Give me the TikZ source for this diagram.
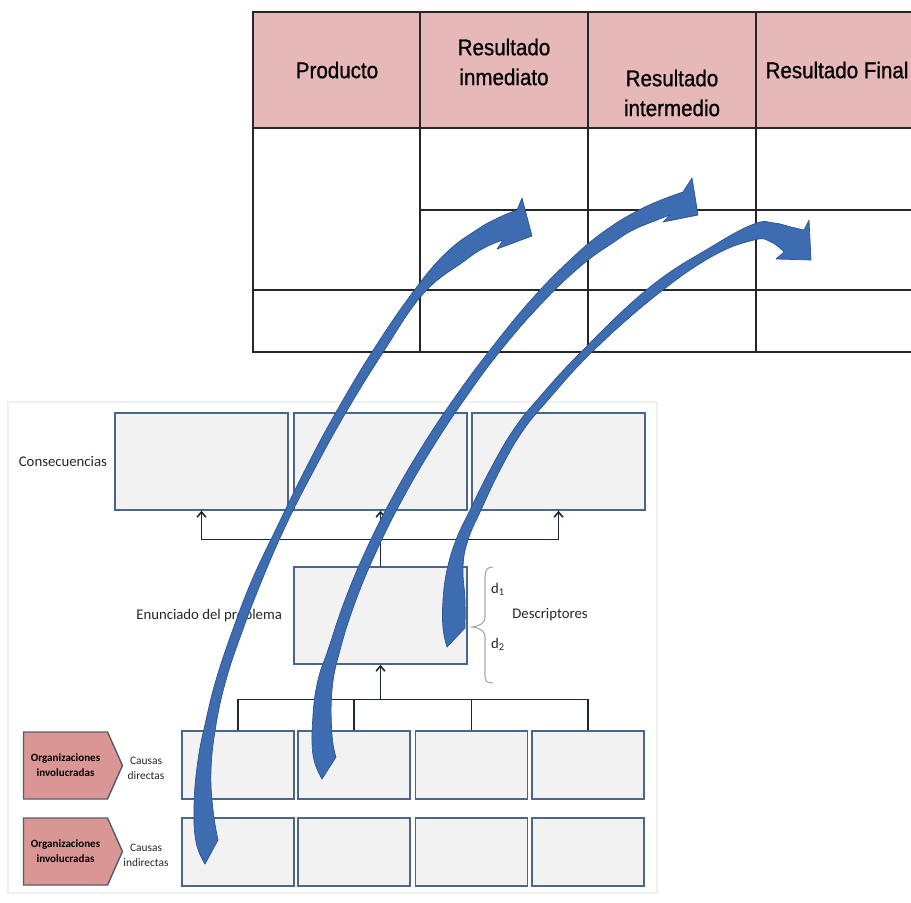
\documentclass[tikz,border=0pt]{standalone}
\usepackage{fontspec}
\setmainfont{Carlito}
\newfontfamily\hdrfont[FakeStretch=0.9,FakeBold=0.8]{Liberation Sans}
\usetikzlibrary{positioning,shapes.symbols,arrows.meta}

\definecolor{hdrpink}{RGB}{230,184,183}
\definecolor{orgpink}{RGB}{217,150,148}
\definecolor{boxfill}{RGB}{242,242,242}
\definecolor{boxedge}{RGB}{74,102,136}
\definecolor{linedark}{RGB}{30,38,52}
\definecolor{flowblue}{RGB}{62,108,176}
\definecolor{flowedge}{RGB}{42,86,150}
\definecolor{orgedge}{RGB}{84,92,112}

\begin{document}
\begin{tikzpicture}[
  x=0.02cm, y=-0.02cm,
  tabline/.style={line width=0.8pt, black!85},
  hdr/.style={font=\hdrfont\fontsize{13}{17}\selectfont, align=center, inner sep=0pt},
  lbl/.style={font=\fontsize{8.4}{10}\selectfont, text=black!85, inner sep=0pt},
  tinylbl/.style={font=\fontsize{6.5}{8.5}\selectfont, align=center, text=black!85, inner sep=0pt},
  cellbox/.style={draw=boxedge, fill=boxfill, line width=0.8pt, inner sep=0pt},
  consbox/.style={cellbox, minimum width=3.46cm, minimum height=1.94cm},
  causebox/.style={cellbox, minimum width=2.24cm, minimum height=1.36cm},
  org/.style={signal, signal to=east, signal pointer angle=132, draw=orgedge, fill=orgpink,
    line width=0.8pt, minimum width=1.98cm, minimum height=1.34cm, inner sep=0pt,
    font=\bfseries\fontsize{6.3}{8.5}\selectfont, align=center},
  link/.style={draw=linedark, line width=0.9pt},
  uparrow/.style={link, -{Straight Barb[length=3pt,width=5pt]}},
  flow/.style={fill=flowblue, draw=flowedge, line width=0.4pt, line join=round}
]
\useasboundingbox (0,0) rectangle (911,902);

% --- results table ---
\fill[hdrpink] (253,12) rectangle (911,128);
\draw[tabline] (911,12) -- (253,12) -- (253,352) -- (911,352);
\draw[tabline] (253,128) -- (911,128);
\draw[tabline] (253,290) -- (911,290);
\draw[tabline] (420,210) -- (911,210);
\foreach \x in {420,588,756}
  \draw[tabline] (\x,12) -- (\x,352);

\node[hdr] (prod) at (337,70) {Producto};
\node[hdr] (inm) at (504,62) {Resultado\\inmediato};
\node[hdr] (inter) at (672,93) {Resultado\\intermedio};
\node[hdr] (final) at (837,70) {Resultado Final};

% --- problem tree ---
\draw[gray!12, line width=0.6pt] (8,402) rectangle (657,893);

\node[consbox] (c1) at (201.5,461.5) {};
\node[consbox] (c2) at (380.5,461.5) {};
\node[consbox] (c3) at (558.5,461.5) {};
\node[consbox] (prob) at (380.5,615.5) {};

\foreach \x [count=\i] in {238,354,471.5,588} {
  \node[causebox] (d\i) at (\x,765) {};
  \node[causebox] (n\i) at (\x,852) {};
}

\node[org] (org1) at (65.5,765.5) {Organizaciones\\involucradas};
\node[org] (org2) at (65.5,851.5) {Organizaciones\\involucradas};

\node[lbl, left=0.14cm of c1] (cons) {Consecuencias};
\node[lbl, left=0.22cm of prob] (enun) {Enunciado del problema};
\node[tinylbl] (cdir) at (146,768) {Causas\\directas};
\node[tinylbl] (cind) at (146,855) {Causas\\indirectas};

% --- descriptors ---
\draw[gray!70, line width=0.6pt] (493,567) .. controls (487,567) and (485,570) .. (485,577)
  -- (485,617) .. controls (485,623) and (480,626) .. (472,627)
  .. controls (480,628) and (485,631) .. (485,637)
  -- (485,676) .. controls (485,681) and (487,683) .. (493,683);
\node[lbl] (d1lbl) at (498,589) {d\textsubscript{1}};
\node[lbl] (d2lbl) at (498,644) {d\textsubscript{2}};
\node[lbl] (desc) at (550,615) {Descriptores};

% --- connectors ---
\path (prob.north) ++(0,-27) coordinate (top);
\draw[link] (prob.north) -- (top);
\draw[uparrow] (top) -| (c1.south);
\draw[uparrow] (top) -| (c3.south);
\draw[uparrow] (top) -- (c2.south);
\path (prob.south) ++(0,35) coordinate (root);
\draw[uparrow] (root) -- (prob.south);
\foreach \i in {1,...,4}
  \draw[link] (d\i.north) |- (root);

% --- curved arrows ---
\filldraw[flow] plot[smooth, tension=0.7] coordinates {(205,864) (196,842) (194,805) (198,760)
    (206,720) (216,680) (232,632) (252,580) (278,525) (305,470) (335,414) (372,352)
    (413,292) (446,253) (478,229) (500,217) (517,210)}
  -- (522,198) -- (532,236) -- (497,249) -- (503,240)
  -- plot[smooth, tension=0.7] coordinates {(503,240) (484,248) (463,262) (423,294)
    (382,354) (345,414) (314,470) (286,525) (262,580) (242,632) (226,680) (216,725)
    (211,770) (213,810) (218,840)}
  -- cycle;

\filldraw[flow] plot[smooth, tension=0.7] coordinates {(322,779) (313,755) (313,715) (318,680)
    (328,650) (345,600) (366,550) (391,500) (420,450) (453,400) (490,350) (531,300)
    (570,260) (606,230) (645,207) (683,192)}
  -- (692,178) -- (698,215) -- (663,222) -- (670,215)
  -- plot[smooth, tension=0.7] coordinates {(670,215) (657,220) (633,230) (614,242)
    (582,265) (543,302) (501,350) (464,400) (431,450) (402,500) (377,550) (356,600)
    (340,650) (332,690) (332,735) (336,757)}
  -- cycle;

\filldraw[flow] plot[smooth, tension=0.7] coordinates {(447,647) (443,628) (443,600) (447,570)
    (456,540) (470,510) (490,470) (512,432) (537,400) (583,350) (650,287) (711,247)
    (754,224) (774,223) (791,227) (804,230)}
  -- (809,220) -- (811,260) -- (776,259) -- (784,252)
  -- plot[smooth, tension=0.7] coordinates {(784,252) (771,242) (754,240) (711,257)
    (654,297) (592,352) (548,400) (522,432) (500,470) (481,510) (468,540) (463,567)
    (465,600) (465,628)}
  -- cycle;

\end{tikzpicture}
\end{document}
